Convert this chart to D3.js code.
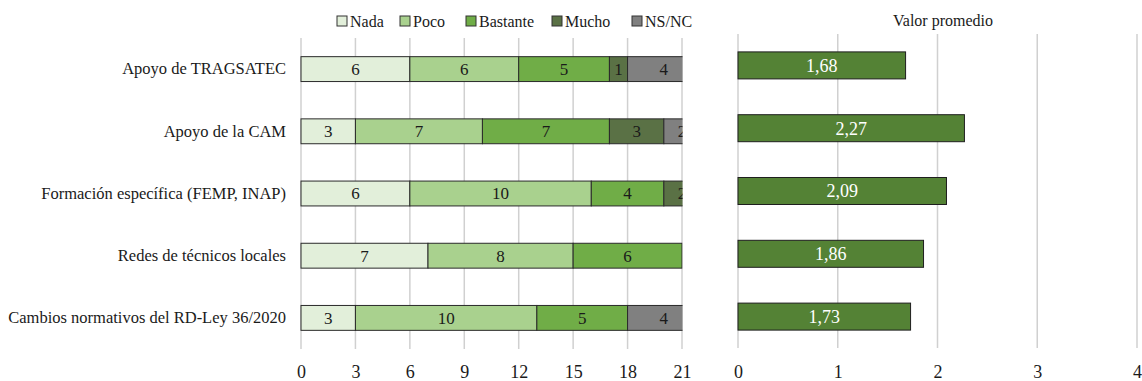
<!DOCTYPE html>
<html><head><meta charset="utf-8">
<script src="https://cdn.jsdelivr.net/npm/d3@7"></script>
<style>body{margin:0;background:#fff;}</style></head>
<body><svg id="c" width="1142" height="381"></svg>
<script>
const categories = ["Apoyo de TRAGSATEC","Apoyo de la CAM","Formación específica (FEMP, INAP)","Redes de técnicos locales","Cambios normativos del RD-Ley 36/2020"];
const seriesNames = ["Nada","Poco","Bastante","Mucho","NS/NC"];
const nada     = [6, 3, 6, 7, 3];
const poco     = [6, 7, 10, 8, 10];
const bastante = [5, 7, 4, 6, 5];
const mucho    = [1, 3, 2, 0, 0];
const nsnc     = [4, 2, 0, 0, 4];
const promedio = [1.68, 2.27, 2.09, 1.86, 1.73];
const leftTicks = [0,3,6,9,12,15,18,21];
const rightTicks = [0,1,2,3,4];
const colors = ["#E2EFDA","#A9D18E","#70AD47","#5A7145","#808080"];
const avgColor = "#548235";
const FONT = '"Liberation Serif"';

const svg = d3.select("#c");
const seriesVals = [nada, poco, bastante, mucho, nsnc];
const rows = categories.map((c,i)=>{const o={cat:c}; seriesNames.forEach((s,j)=>o[s]=seriesVals[j][i]); return o;});
const stack = d3.stack().keys(seriesNames)(rows);

// LEFT PANEL
const xL = d3.scaleLinear().domain([0,21]).range([301,682]);
const yL = d3.scaleBand().domain(categories).range([38,349]);
const bhL = yL.bandwidth()*0.40;

svg.append("defs").append("clipPath").attr("id","clipL")
  .append("rect").attr("x",xL(0)-1).attr("y",0).attr("width",xL(21)-xL(0)+1.5).attr("height",381);

svg.append("g").selectAll("line").data(leftTicks).join("line")
  .attr("x1",d=>xL(d)).attr("x2",d=>xL(d)).attr("y1",38).attr("y2",349)
  .attr("stroke","#d0d0d0").attr("stroke-width",1.5);

const gL = svg.append("g").attr("clip-path","url(#clipL)");
stack.forEach((layer,j)=>{
  const g = gL.append("g");
  layer.forEach((d,i)=>{
    const v = d[1]-d[0];
    if(v<=0) return;
    const y0 = yL(categories[i]) + (yL.bandwidth()-bhL)/2;
    g.append("rect").attr("x",xL(d[0])).attr("y",y0)
      .attr("width",xL(d[1])-xL(d[0])).attr("height",bhL)
      .attr("fill",colors[j]).attr("stroke","#2a2a2a").attr("stroke-width",1);
    g.append("text").attr("x",(xL(d[0])+xL(d[1]))/2).attr("y",y0+bhL/2)
      .attr("dy","0.35em").attr("text-anchor","middle").style("font-size","17px")
      .style("font-family",FONT).attr("fill","#1a1a1a").text(v);
  });
});

const axL = svg.append("g").attr("transform","translate(0,349)")
  .call(d3.axisBottom(xL).tickValues(leftTicks).tickFormat(d3.format("d")).tickSize(0).tickPadding(16));
axL.select(".domain").remove();
axL.selectAll("text").style("font-size","18px").style("font-family",FONT).attr("fill","#1a1a1a");

const ayL = svg.append("g").attr("transform","translate(301,0)")
  .call(d3.axisLeft(yL).tickSize(0).tickPadding(15));
ayL.select(".domain").remove();
ayL.selectAll("text").style("font-size","16.5px").style("font-family",FONT).attr("fill","#1a1a1a");

// Legend
const legX = [337,400,466,552,632];
const leg = svg.append("g");
seriesNames.forEach((s,j)=>{
  leg.append("rect").attr("x",legX[j]).attr("y",16).attr("width",10).attr("height",10)
    .attr("fill",colors[j]).attr("stroke","#333").attr("stroke-width",1);
  leg.append("text").attr("x",legX[j]+13).attr("y",27).style("font-size","16px")
    .style("font-family",FONT).attr("fill","#1a1a1a").text(s);
});

// RIGHT PANEL
const xR = d3.scaleLinear().domain([0,4]).range([738,1137]);
const yR = d3.scaleBand().domain(categories).range([34,348]);
const bhR = yR.bandwidth()*0.43;

svg.append("g").selectAll("line").data(rightTicks).join("line")
  .attr("x1",d=>xR(d)).attr("x2",d=>xR(d)).attr("y1",34).attr("y2",348)
  .attr("stroke","#d0d0d0").attr("stroke-width",1.5);

const gR = svg.append("g");
gR.selectAll("rect").data(promedio).join("rect")
  .attr("x",xR(0)).attr("y",(d,i)=>yR(categories[i])+(yR.bandwidth()-bhR)/2)
  .attr("width",d=>xR(d)-xR(0)).attr("height",bhR)
  .attr("fill",avgColor).attr("stroke","#1e1e1e").attr("stroke-width",1);
gR.selectAll("text").data(promedio).join("text")
  .attr("x",d=>(xR(0)+xR(d))/2).attr("y",(d,i)=>yR(categories[i])+yR.bandwidth()/2)
  .attr("dy","0.35em").attr("text-anchor","middle").style("font-size","18px")
  .style("font-family",FONT).attr("fill","#fff")
  .text(d=>d.toFixed(2).replace(".",","));

const axR = svg.append("g").attr("transform","translate(0,348)")
  .call(d3.axisBottom(xR).tickValues(rightTicks).tickFormat(d3.format("d")).tickSize(0).tickPadding(17));
axR.select(".domain").remove();
axR.selectAll("text").style("font-size","18px").style("font-family",FONT).attr("fill","#1a1a1a");

svg.append("text").attr("x",943).attr("y",26).attr("text-anchor","middle")
  .style("font-size","16px").style("font-family",FONT).attr("fill","#1a1a1a").text("Valor promedio");
</script></body></html>
